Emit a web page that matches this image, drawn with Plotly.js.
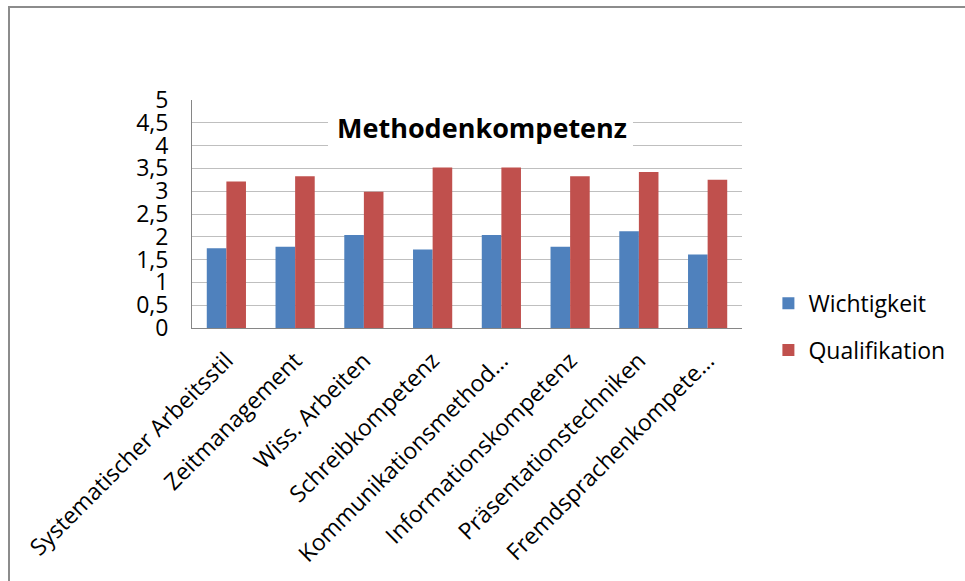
<!DOCTYPE html>
<html>
<head>
<meta charset="utf-8">
<script src="https://cdn.plot.ly/plotly-3.0.1.min.js"></script>
<style>
  html, body { margin: 0; padding: 0; background: #fff; }
  #chart { width: 965px; height: 581px; position: absolute; left: 0; top: 0; }
  #frame { position: absolute; left: 8px; top: 6px; width: 957px; height: 575px;
           border-top: 2px solid #8c8c8c; border-left: 2px solid #8c8c8c; pointer-events: none; }
</style>
</head>
<body>
<div id="chart"></div>
<div id="frame"></div>
<script>
const categories = [
  "Systematischer Arbeitsstil",
  "Zeitmanagement",
  "Wiss. Arbeiten",
  "Schreibkompetenz",
  "Kommunikationsmethod…",
  "Informationskompetenz",
  "Präsentationstechniken",
  "Fremdsprachenkompete…"
];
const wichtigkeit   = [1.75, 1.78, 2.04, 1.72, 2.04, 1.78, 2.12, 1.61];
const qualifikation = [3.21, 3.33, 2.99, 3.52, 3.52, 3.33, 3.42, 3.25];
const yTicks = [0, 0.5, 1, 1.5, 2, 2.5, 3, 3.5, 4, 4.5, 5];
const chartTitle = "Methodenkompetenz";

const FONT = "Open Sans, sans-serif";

const traces = [
  { type: "bar", name: "Wichtigkeit", x: categories, y: wichtigkeit,
    marker: { color: "#4F81BD" }, legendgroup: "a" },
  { type: "bar", name: "Qualifikation", x: categories, y: qualifikation,
    marker: { color: "#C0504D" }, legendgroup: "b" }
];

const layout = {
  width: 965, height: 581,
  margin: { l: 192, r: 223, t: 100, b: 253, pad: 0 },
  paper_bgcolor: "#ffffff", plot_bgcolor: "#ffffff",
  separators: ", ",
  font: { family: FONT, color: "#000000", size: 22 },
  barmode: "group", bargap: 0.43, bargroupgap: 0,
  title: { text: chartTitle, font: { family: FONT, size: 27, weight: "bold", color: "#000" },
           xref: "container", yref: "container", x: 0.4995, xanchor: "center",
           y: 1 - 129/581, yanchor: "middle" },
  xaxis: {
    type: "category", tickangle: -45, showgrid: false,
    showline: true, linecolor: "#868686", linewidth: 1,
    ticks: "", ticklabelstandoff: 9, tickfont: { family: FONT, size: 23, color: "#000" },
    fixedrange: true
  },
  yaxis: {
    range: [0, 5], tickvals: yTicks, ticktext: yTicks.map(v => String(v).replace(".", ",")),
    showgrid: true, gridcolor: "#bfbfbf", gridwidth: 1,
    showline: true, linecolor: "#868686", linewidth: 1,
    ticks: "", ticklabelstandoff: 18, zeroline: false,
    tickfont: { family: FONT, size: 23, color: "#000" },
    fixedrange: true
  },
  legend: {
    x: 1.048, xanchor: "left", y: 0.203, yanchor: "top",
    font: { family: FONT, size: 23, color: "#000" },
    tracegroupgap: 14, traceorder: "grouped", bgcolor: "rgba(0,0,0,0)"
  },
  shapes: [
    { type: "rect", xref: "paper", yref: "y", x0: 0.2473, x1: 0.8018, y0: 3.85, y1: 4.85,
      fillcolor: "#ffffff", line: { width: 0 }, layer: "above" }
  ],
  showlegend: true
};

Plotly.newPlot("chart", traces, layout, { displayModeBar: false, staticPlot: true });
</script>
</body>
</html>
